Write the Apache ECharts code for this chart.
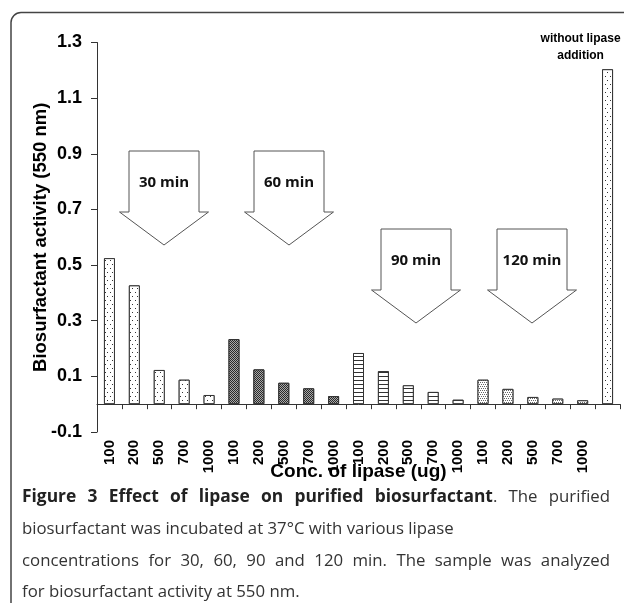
<!DOCTYPE html>
<html>
<head>
<meta charset="utf-8">
<script src="https://cdn.jsdelivr.net/npm/echarts@6/dist/echarts.min.js"></script>
<style>
html,body{margin:0;padding:0;background:#fff;}
#chart{width:624px;height:603px;}
</style>
</head>
<body>
<div id="chart"></div>
<script>
// ---- data ----
const concLabels = ['100', '200', '500', '700', '1000'];
const groupNames = ['30 min', '60 min', '90 min', '120 min'];
const values30 = [0.525, 0.427, 0.123, 0.088, 0.033];
const values60 = [0.234, 0.125, 0.077, 0.057, 0.029];
const values90 = [0.184, 0.119, 0.068, 0.044, 0.016];
const values120 = [0.088, 0.055, 0.026, 0.020, 0.014];
const controlValue = [1.204];
const controlLabel = 'without lipase\naddition';
const yTicks = { min: -0.1, max: 1.3, interval: 0.2 };
const yName = 'Biosurfactant activity (550 nm)';
const xName = 'Conc. of lipase (ug)';
const captionBold = 'Figure 3 Effect of lipase on purified biosurfactant';
const captionLines = [
  '. The purified',
  'biosurfactant was incubated at 37\u00b0C with various lipase',
  'concentrations for 30, 60, 90 and 120 min. The sample was analyzed',
  'for biosurfactant activity at 550 nm.'
];

// ---- styles ----
const decals = {
  sparse: { symbol: 'rect', symbolSize: 1, color: '#333', backgroundColor: '#fff',
            dashArrayX: [[1, 4], [0, 2, 1, 2]], dashArrayY: [1, 3] },
  dark:   { symbol: 'rect', symbolSize: 1, color: 'rgba(255,255,255,0.6)', backgroundColor: '#2a2a2a',
            dashArrayX: [[1, 1], [0, 1, 1, 0]], dashArrayY: [1, 0] },
  lines:  { symbol: 'rect', symbolSize: 1, color: '#333', backgroundColor: '#fff',
            dashArrayX: [1, 0], dashArrayY: [1, 3] },
  dense:  { symbol: 'rect', symbolSize: 1, color: '#666', backgroundColor: '#fff',
            dashArrayX: [[1, 1], [0, 1, 1, 0]], dashArrayY: [1, 1] }
};
const groupDecal = [decals.sparse, decals.dark, decals.lines, decals.dense];

const categories = [];
const barData = [];
[values30, values60, values90, values120].forEach((vals, gi) => {
  vals.forEach((v, i) => {
    categories.push(concLabels[i]);
    barData.push({ value: v, itemStyle: { color: gi === 1 ? '#2a2a2a' : '#fff', decal: groupDecal[gi] } });
  });
});
categories.push('');
barData.push({
  value: controlValue[0],
  itemStyle: { color: '#fff', decal: decals.sparse },
  label: {
    show: true, position: 'top', formatter: controlLabel, offset: [-27, 0],
    fontFamily: 'Liberation Sans Narrow, Liberation Sans, Arial', fontWeight: 'bold',
    fontSize: 12, lineHeight: 17, color: '#000', align: 'center'
  }
});

const chart = echarts.init(document.getElementById('chart'), null, { renderer: 'canvas' });

function arrow(cx, top, text) {
  const bw = 35, ww = 44.5, h = 61, th = 33;
  return [
    {
      type: 'polygon', z: 10,
      shape: { points: [
        [cx - bw, top], [cx + bw, top], [cx + bw, top + h], [cx + ww, top + h],
        [cx, top + h + th], [cx - ww, top + h], [cx - bw, top + h]
      ] },
      style: { fill: '#fff', stroke: '#555', lineWidth: 1 }
    },
    {
      type: 'text', z: 11, x: cx, y: top + 32,
      style: { text: text, fill: '#111', font: 'bold 15px "Open Sans", sans-serif',
               align: 'center', verticalAlign: 'middle' }
    }
  ];
}

// caption with justified lines
const captionFont = '"Open Sans", sans-serif';
const capSize = 16.8;
const fontR = capSize + 'px ' + captionFont;
const fontB = 'bold 17.4px ' + captionFont;
const measureCtx = document.createElement('canvas').getContext('2d');
function measure(t, f) { measureCtx.font = f; return measureCtx.measureText(t).width; }
const capLeft = 22, capRight = 610;
function captionLine(tokens, y, justify) {
  const words = tokens.map(t => t.parts.reduce((s, p) => s + measure(p[0], p[1]), 0));
  const total = words.reduce((a, b) => a + b, 0);
  const space = justify ? (capRight - capLeft - total) / (tokens.length - 1) : measure(' ', fontR);
  const out = [];
  let x = capLeft;
  tokens.forEach(t => {
    t.parts.forEach(p => {
      out.push({ type: 'text', x: x, y: y,
        style: { text: p[0], font: p[1], fill: p[2], verticalAlign: 'middle' } });
      x += measure(p[0], p[1]);
    });
    x += space;
  });
  return out;
}
function wordsOf(str, font, fill) {
  return str.split(' ').filter(s => s.length).map(w => ({ parts: [[w, font, fill]] }));
}
const line1Tokens = wordsOf(captionBold, fontB, '#222');
line1Tokens[line1Tokens.length - 1].parts.push(['.', fontR, '#333']);
wordsOf(captionLines[0].slice(1), fontR, '#333').forEach(t => line1Tokens.push(t));

const graphics = [
  { type: 'rect', shape: { x: 11, y: 12.5, width: 640, height: 600, r: 10 },
    style: { fill: 'none', stroke: '#444', lineWidth: 1.5 }, z: 0 },
  ...arrow(164, 151, groupNames[0]),
  ...arrow(289, 151, groupNames[1]),
  ...arrow(416, 229, groupNames[2]),
  ...arrow(532, 229, groupNames[3]),
  ...captionLine(line1Tokens, 497, true),
  ...captionLine(wordsOf(captionLines[1], fontR, '#333'), 529, false),
  ...captionLine(wordsOf(captionLines[2], fontR, '#333'), 561, true),
  ...captionLine(wordsOf(captionLines[3], fontR, '#333'), 592, false)
];

chart.setOption({
  animation: false,
  backgroundColor: '#fff',
  grid: { left: 97, right: 4, top: 42.5, bottom: 171 },
  xAxis: {
    type: 'category',
    data: categories,
    name: xName,
    nameLocation: 'middle',
    nameGap: 30,
    nameMoveOverlap: false,
    nameTextStyle: { fontFamily: 'Liberation Sans, Arial', fontWeight: 'bold', fontSize: 19, color: '#000' },
    axisLine: { onZero: true, lineStyle: { color: '#333', width: 1 } },
    axisTick: { show: true, interval: 0, length: 5, lineStyle: { color: '#333' } },
    axisLabel: {
      interval: 0, rotate: 90, margin: 8,
      fontFamily: 'Liberation Sans, Arial', fontWeight: 'bold', fontSize: 15, color: '#000'
    },
    splitLine: { show: false }
  },
  yAxis: {
    type: 'value',
    min: yTicks.min, max: yTicks.max, interval: yTicks.interval,
    name: yName,
    nameLocation: 'middle',
    nameGap: 47,
    nameMoveOverlap: false,
    nameTextStyle: { fontFamily: 'Liberation Sans, Arial', fontWeight: 'bold', fontSize: 18.5, color: '#000' },
    axisLine: { show: true, lineStyle: { color: '#333', width: 1 } },
    axisTick: { show: true, length: 6, lineStyle: { color: '#333' } },
    axisLabel: {
      margin: 15,
      formatter: v => v.toFixed(1),
      fontFamily: 'Liberation Sans, Arial', fontWeight: 'bold', fontSize: 18, color: '#000'
    },
    splitLine: { show: false }
  },
  series: [{
    type: 'bar',
    data: barData,
    barWidth: 11,
    itemStyle: { borderColor: '#333', borderWidth: 1 }
  }],
  graphic: graphics
});
</script>
</body>
</html>
